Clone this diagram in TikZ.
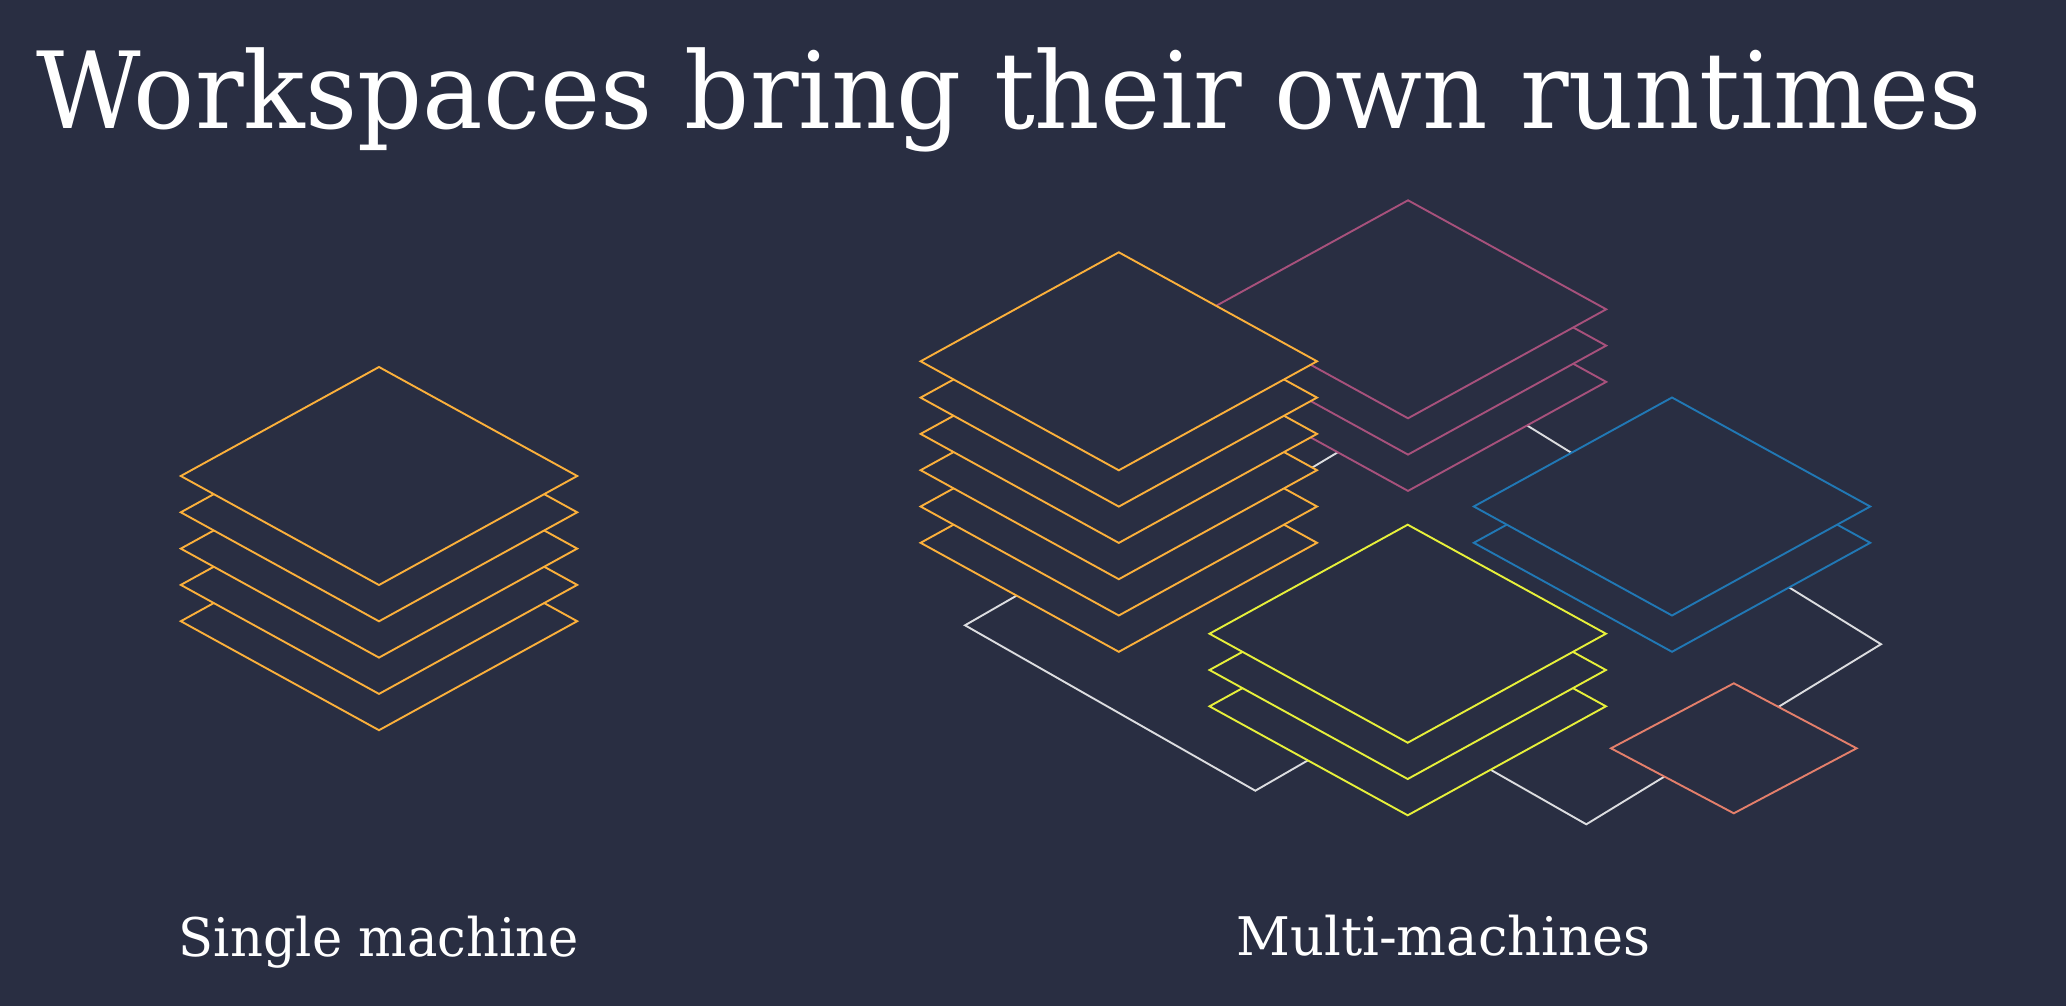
\documentclass[tikz,border=0pt]{standalone}
\usepackage{fontspec}
\newfontfamily\headfont{DejaVu Serif}

\definecolor{bg}{RGB}{41,46,66}
\definecolor{layorange}{RGB}{251,176,59}
\definecolor{laymagenta}{RGB}{167,81,124}
\definecolor{layblue}{RGB}{33,120,181}
\definecolor{layyellow}{RGB}{231,240,58}
\definecolor{laysalmon}{RGB}{228,127,107}
\definecolor{floorline}{RGB}{220,221,224}

% text set at a given size, stretched horizontally to a given width
\newlength\txtw
\newcommand\fitted[3]{%
  \settowidth\txtw{\fontsize{#2}{#2}\selectfont\headfont #3}%
  \pgfmathsetmacro\fitscale{#1/\txtw}%
  \scalebox{\fitscale}[1]{\fontsize{#2}{#2}\selectfont\headfont #3}}

% one flat layer: colour, centre x, centre y, half width, half height
\newcommand\slab[5]{%
  \draw[layer, draw=#1, shift={(#2,#3)}]
    (-#4,0) -- (0,-#5) -- (#4,0) -- (0,#5) -- cycle;}

% a stack of layers, drawn bottom first: colour, x, y, count
\newcommand\stack[4]{%
  \foreach \k in {#4,...,1}{%
    \pgfmathsetmacro\ly{#3+(\k-1)*36.3}%
    \slab{#1}{#2}{\ly}{198.2}{109}}}

\tikzset{
  layer/.style={line width=1.9pt, fill=bg, line join=miter},
  floor/.style={line width=1.9pt, draw=floorline, fill=bg, line join=miter},
  label/.style={text=white, inner sep=0pt, anchor=base west},
}

\begin{document}
\begin{tikzpicture}[x=1pt,y=-1pt]
  \fill[bg] (0,0) rectangle (2066,1006);
  \useasboundingbox (0,0) rectangle (2066,1006);

  \node[label] (title) at (36,128.3)
    {\fitted{1946}{106.4}{Workspaces bring their own runtimes}};

  % single machine
  \stack{layorange}{379}{476}{5}

  % shared floor under the machines
  \draw[floor] (965,625.3) -- (1049,577) -- (1090,600.6) -- (1456,381.5)
    -- (1881,644.2) -- (1586.3,824.3) -- (1390.5,712.7) -- (1255.3,790.7) -- cycle;

  % machines
  \stack{laymagenta}{1408}{309.3}{3}
  \stack{layblue}{1672}{506.5}{2}
  \stack{layorange}{1118.8}{361.3}{6}
  \stack{layyellow}{1407.7}{633.7}{3}
  \slab{laysalmon}{1733.8}{748.3}{122.8}{65}

  \node[label] (single) at (178.5,956) {\fitted{400}{53.2}{Single machine}};
  \node[label] (multi) at (1236.5,955) {\fitted{413.5}{53.2}{Multi-machines}};
\end{tikzpicture}
\end{document}
